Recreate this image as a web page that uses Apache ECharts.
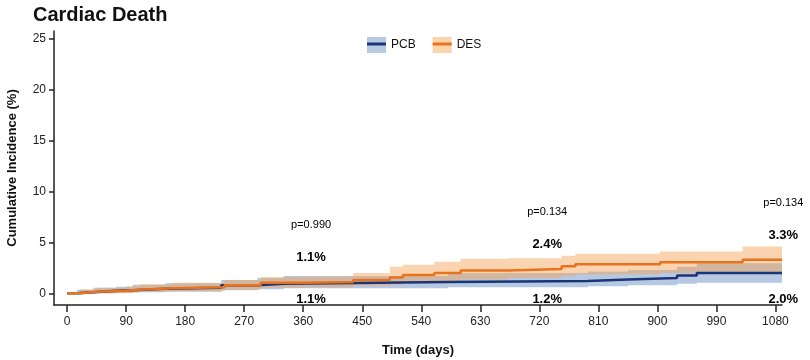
<!DOCTYPE html>
<html>
<head>
<meta charset="utf-8">
<script src="https://cdn.jsdelivr.net/npm/echarts@6/dist/echarts.min.js"></script>
<style>
  html, body { margin: 0; padding: 0; background: #fff; }
  #container { width: 810px; height: 360px; }
</style>
</head>
<body>
<div id="container"></div>
<script>
const dom = document.getElementById('container')
const myChart = echarts.init(dom)

// Kaplan-Meier style step curves (days, cumulative incidence %)
const pcbDays = [0, 15, 40, 75, 100, 150, 235, 290, 330, 581, 794, 855, 930, 960, 1090]
const pcbRate = [0, 0.1, 0.25, 0.3, 0.45, 0.55, 0.8, 0.95, 1.1, 1.2, 1.35, 1.5, 1.75, 2.0, 2.0]
const pcbLow = [0, 0, 0, 0.02, 0.1, 0.15, 0.3, 0.4, 0.5, 0.6, 0.7, 0.8, 0.95, 1.05, 1.05]
const pcbHigh = [0, 0.35, 0.55, 0.65, 0.85, 1.0, 1.3, 1.5, 1.7, 2.0, 2.15, 2.3, 2.6, 2.95, 2.95]

const desDays = [0, 20, 45, 90, 110, 160, 240, 295, 360, 436, 492, 512, 560, 600, 672, 754, 775, 904, 1030, 1090]
const desRate = [0, 0.15, 0.25, 0.35, 0.5, 0.6, 0.8, 1.05, 1.1, 1.3, 1.55, 1.8, 2.0, 2.25, 2.4, 2.65, 2.85, 3.05, 3.3, 3.3]
const desLow = [0, 0, 0, 0.05, 0.15, 0.2, 0.35, 0.55, 0.6, 0.75, 0.85, 1.05, 1.2, 1.35, 1.5, 1.7, 1.85, 2.0, 2.1, 2.1]
const desHigh = [0, 0.4, 0.55, 0.7, 0.9, 1.05, 1.3, 1.6, 1.65, 2.0, 2.6, 2.8, 3.1, 3.4, 3.45, 3.7, 3.9, 4.1, 4.6, 4.6]

// landmark annotations
const landmarkDays = [360, 720, 1080]
const pValues = ['p=0.990', 'p=0.134', 'p=0.134']
const desPct = [1.1, 2.4, 3.3]
const pcbPct = [1.1, 1.2, 2.0]

const xTicks = [0, 90, 180, 270, 360, 450, 540, 630, 720, 810, 900, 990, 1080]
const yTicks = [0, 5, 10, 15, 20, 25]

const FONT = 'Liberation Sans, Arial, Helvetica, sans-serif'
const NAVY = '#1a3478'
const ORANGE = '#e8731f'

const zip = (xs, ys) => xs.map((x, i) => [x, ys[i]])

// confidence band as one step-shaped polygon, drawn through the axes with api.coord
function band(name, days, low, high, color) {
    return {
        name: name,
        type: 'custom',
        silent: true,
        itemStyle: { color: color },
        renderItem: function (params, api) {
            if (params.dataIndex !== 0) return
            const top = []
            const bottom = []
            for (let i = 0; i < days.length; i++) {
                const x0 = days[i]
                const x1 = i + 1 < days.length ? days[i + 1] : days[i]
                top.push(api.coord([x0, high[i]]), api.coord([x1, high[i]]))
                bottom.push(api.coord([x0, low[i]]), api.coord([x1, low[i]]))
            }
            return {
                type: 'polygon',
                shape: { points: top.concat(bottom.reverse()) },
                style: { fill: color }
            }
        },
        data: zip(days, high)
    }
}

function labels(name, items, fontSize, bold) {
    return {
        name: name,
        type: 'scatter',
        symbolSize: 0,
        silent: true,
        clip: false,
        z: 5,
        itemStyle: { opacity: 1 },
        label: {
            show: true,
            position: 'inside',
            formatter: p => p.data.text,
            color: '#000',
            opacity: 1,
            textBorderWidth: 0,
            fontFamily: FONT,
            fontSize: fontSize,
            fontWeight: bold ? 'bold' : 'normal'
        },
        data: items
    }
}

const pctItems = landmarkDays.map((d, i) => ({ value: [d + 12, desPct[i] + 2.4], text: desPct[i].toFixed(1) + '%' }))
const pItems = landmarkDays.map((d, i) => ({ value: [d + 12, desPct[i] + 5.6], text: pValues[i] }))
const pcbItems = landmarkDays.map((d, i) => ({ value: [d + 12, -0.57], text: pcbPct[i].toFixed(1) + '%' }))

const legendBase = {
    orient: 'horizontal',
    left: 362,
    itemWidth: 19,
    itemGap: 17,
    selectedMode: false,
    textStyle: { fontFamily: FONT, fontSize: 12, color: '#111' },
    itemStyle: { borderWidth: 0 }
}

const option = {
    animation: false,
    backgroundColor: '#fff',
    title: {
        text: 'Cardiac Death',
        left: 28,
        top: 0,
        textStyle: { fontFamily: FONT, fontSize: 20, fontWeight: 'bold', color: '#111' }
    },
    legend: [
        Object.assign({}, legendBase, {
            top: 32,
            icon: 'rect',
            itemHeight: 16,
            data: [
                { name: 'PCB CI', itemStyle: { color: '#b8cae2' } },
                { name: 'DES CI', itemStyle: { color: '#fbd4ae' } }
            ],
            formatter: n => n.replace(' CI', '')
        }),
        Object.assign({}, legendBase, {
            top: 33,
            icon: 'rect',
            itemHeight: 3,
            data: [
                { name: 'PCB', itemStyle: { color: NAVY } },
                { name: 'DES', itemStyle: { color: ORANGE } }
            ],
            textStyle: { fontFamily: FONT, fontSize: 12, color: 'rgba(0,0,0,0)' }
        })
    ],
    grid: { left: 54, right: 28, top: 31, bottom: 55, containLabel: false, outerBoundsMode: 'none' },
    xAxis: {
        type: 'value',
        min: -20,
        max: 1090,
        name: 'Time (days)',
        nameLocation: 'middle',
        nameGap: 39,
        nameTextStyle: { fontFamily: FONT, fontSize: 13, fontWeight: 'bold', color: '#111' },
        axisLine: { show: true, onZero: false, lineStyle: { color: '#222', width: 1.5 } },
        axisTick: { show: true, length: 7, customValues: xTicks, lineStyle: { color: '#222', width: 1.5 } },
        axisLabel: { customValues: xTicks, formatter: v => String(v), margin: 11, fontFamily: FONT, fontSize: 12, color: '#222' },
        splitLine: { show: false }
    },
    yAxis: {
        type: 'value',
        min: -1.15,
        max: 25.8,
        name: 'Cumulative Incidence (%)',
        nameLocation: 'middle',
        nameGap: 35,
        nameTextStyle: { fontFamily: FONT, fontSize: 13, fontWeight: 'bold', color: '#111' },
        axisLine: { show: true, onZero: false, lineStyle: { color: '#222', width: 1.5 } },
        axisTick: { show: true, length: 5, customValues: yTicks, lineStyle: { color: '#222', width: 1.5 } },
        axisLabel: { customValues: yTicks, margin: 8, fontFamily: FONT, fontSize: 12, color: '#222' },
        splitLine: { show: false }
    },
    series: [
        band('PCB CI', pcbDays, pcbLow, pcbHigh, 'rgba(111,147,197,0.5)'),
        band('DES CI', desDays, desLow, desHigh, 'rgba(245,160,80,0.45)'),
        {
            name: 'PCB',
            type: 'line',
            step: 'end',
            symbol: 'none',
            z: 3,
            itemStyle: { color: NAVY },
            lineStyle: { color: NAVY, width: 2.5 },
            data: zip(pcbDays, pcbRate)
        },
        {
            name: 'DES',
            type: 'line',
            step: 'end',
            symbol: 'none',
            z: 3,
            itemStyle: { color: ORANGE },
            lineStyle: { color: ORANGE, width: 2.5 },
            data: zip(desDays, desRate)
        },
        labels('p values', pItems, 11, false),
        labels('DES pct', pctItems, 13, true),
        labels('PCB pct', pcbItems, 13, true)
    ]
}

myChart.setOption(option)
</script>
</body>
</html>
